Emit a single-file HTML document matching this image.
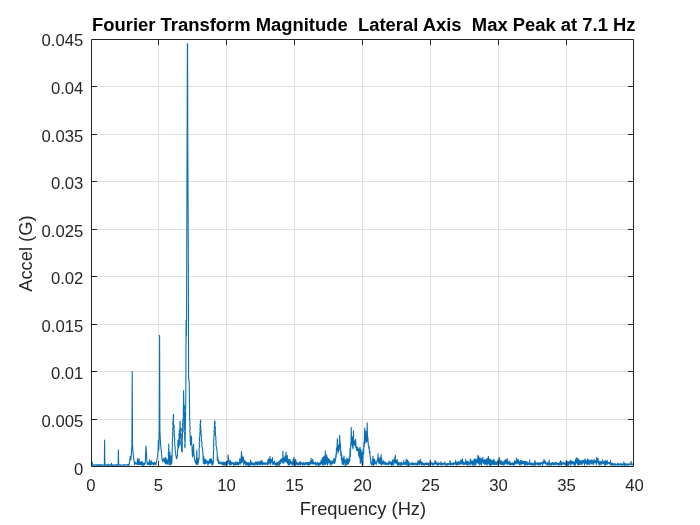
<!DOCTYPE html><html><head><meta charset="utf-8"><style>html,body{margin:0;padding:0;background:#fff;width:700px;height:525px;overflow:hidden}svg{display:block;will-change:transform}text{font-family:"Liberation Sans",sans-serif;fill:#262626}</style></head><body>
<svg width="700" height="525" viewBox="0 0 700 525">
<rect x="0" y="0" width="700" height="525" fill="#ffffff"/>
<path d="M158.5 39V466M226.5 39V466M294.5 39V466M362.5 39V466M430.5 39V466M498.5 39V466M566.5 39V466M91 419.5H633M91 371.5H633M91 324.5H633M91 276.5H633M91 229.5H633M91 181.5H633M91 134.5H633M91 86.5H633" stroke="#dfdfdf" stroke-width="1" fill="none"/>
<path d="M91.00 464.99 91.33 465.19 91.66 464.73 91.99 465.22 92.32 462.18 92.65 465.21 92.98 464.81 93.31 465.20 93.64 464.84 93.97 465.38 94.30 464.86 94.63 465.06 94.96 464.98 95.29 465.23 95.62 464.69 95.95 465.11 96.28 464.97 96.61 465.29 96.94 464.73 97.27 465.07 97.60 464.70 97.93 465.39 98.26 464.73 98.59 465.15 98.92 464.78 99.25 465.18 99.58 464.68 99.91 465.36 100.24 464.85 100.57 465.33 100.90 464.86 101.23 465.26 101.56 464.82 101.89 465.34 102.22 464.73 102.55 465.17 102.88 464.86 103.21 465.18 103.54 464.96 103.87 465.13 104.20 464.95 104.30 465.20 104.60 440.00 104.90 465.20 105.23 465.29 105.56 464.78 105.89 465.32 106.22 465.00 106.55 465.35 106.88 464.75 107.21 465.31 107.54 464.68 107.87 465.25 108.20 464.94 108.53 465.25 108.86 464.10 109.19 465.15 109.52 464.97 109.85 465.36 110.18 464.85 110.51 465.22 110.84 464.91 111.17 465.37 111.50 463.22 111.83 465.21 112.16 464.87 112.49 465.33 112.82 464.73 113.15 465.04 113.48 464.98 113.81 465.38 114.14 464.99 114.47 465.12 114.80 464.78 115.13 465.21 115.46 464.82 115.79 465.40 116.12 464.91 116.45 465.33 116.78 464.83 117.11 465.25 117.44 464.73 117.77 465.22 118.10 464.62 118.10 465.20 118.40 449.70 118.70 465.20 119.03 465.11 119.36 464.91 119.69 465.17 120.02 464.81 120.35 465.22 120.68 465.00 121.01 465.31 121.34 464.97 121.67 465.12 122.00 464.95 122.33 465.08 122.66 464.97 122.99 465.12 123.32 464.93 123.65 465.14 123.98 464.66 124.31 465.23 124.64 464.62 124.97 465.17 125.30 464.89 125.63 465.06 125.96 464.90 126.29 465.14 126.62 464.75 126.95 465.21 127.28 464.81 127.61 465.00 127.94 464.59 128.27 465.38 128.60 464.24 128.93 465.17 129.26 462.67 129.50 463.00 130.20 456.40 130.80 460.00 131.50 452.00 131.90 445.00 132.20 371.60 132.50 445.00 133.00 452.00 133.30 455.70 133.70 458.00 134.20 462.00 134.53 464.74 134.86 461.88 135.19 463.81 135.52 462.78 135.85 463.70 136.18 462.76 136.51 464.22 136.84 462.98 137.17 464.22 137.50 458.55 137.83 465.06 138.16 462.02 138.40 460.50 138.82 464.34 139.15 458.43 139.48 464.55 139.81 462.43 140.14 464.70 140.47 462.15 140.80 464.40 141.13 462.29 141.46 464.87 141.79 461.50 142.12 465.32 142.45 461.88 142.78 464.68 143.11 463.17 143.44 465.31 143.77 463.26 144.10 465.26 144.43 463.09 144.76 464.46 145.09 463.16 145.30 463.00 145.90 446.00 146.40 452.00 147.00 462.00 147.33 464.36 147.66 463.10 147.99 464.47 148.32 463.17 148.65 464.20 148.98 461.48 149.31 464.50 149.64 459.68 149.97 465.15 150.30 462.20 150.63 464.47 150.96 461.71 151.29 464.52 151.50 460.70 151.95 463.84 152.28 462.49 152.61 463.64 152.94 463.05 153.27 465.20 153.60 463.25 153.93 464.26 154.26 462.29 154.59 464.12 154.92 462.59 155.25 464.18 155.58 462.85 155.91 464.91 156.24 463.13 156.50 462.00 157.20 458.00 158.00 452.00 158.40 440.00 158.80 450.00 159.30 430.00 159.60 335.40 159.90 430.00 160.60 445.00 161.30 451.00 162.00 459.00 162.90 462.00 163.80 458.00 164.60 462.00 164.93 462.48 165.26 457.32 165.59 463.98 165.92 460.66 166.25 463.60 166.58 458.59 166.91 463.15 167.24 460.44 167.57 464.16 167.90 460.21 168.23 464.15 168.40 459.00 168.61 456.57 168.18 453.96 168.73 451.60 168.54 449.01 168.87 446.85 168.70 444.00 168.78 446.10 168.77 449.04 169.09 450.45 168.56 453.89 169.18 455.81 169.00 458.00 169.33 458.64 169.66 464.99 170.00 452.00 170.32 464.70 170.65 458.33 170.98 461.27 171.31 455.90 171.64 464.13 171.97 459.46 172.30 447.00 172.43 444.09 172.26 441.81 172.58 439.70 172.58 437.64 172.81 435.77 172.55 433.20 172.97 430.89 172.71 428.11 173.29 426.64 172.72 423.96 173.20 421.06 173.06 418.54 173.50 416.61 173.30 414.40 173.71 416.66 173.19 419.62 173.63 421.25 173.43 423.96 174.20 426.28 173.94 428.96 174.35 430.92 174.16 433.40 174.30 436.00 174.79 438.64 174.56 440.36 174.79 442.47 174.62 444.95 175.25 447.60 175.20 450.00 175.60 452.61 175.82 454.84 176.20 457.00 176.53 458.81 176.86 457.43 177.19 457.38 177.40 455.00 177.54 452.40 177.53 449.72 178.04 447.86 177.69 445.46 177.97 442.37 178.00 440.00 178.50 442.84 178.36 445.92 178.60 448.00 178.76 445.46 178.50 443.29 178.97 440.74 178.92 439.10 179.12 436.87 178.99 434.44 179.55 432.23 179.30 430.00 179.57 432.94 179.37 434.58 179.82 437.88 179.48 439.63 179.89 443.03 179.70 445.00 179.80 443.17 179.45 440.38 179.94 437.41 179.81 436.08 179.93 433.40 179.79 431.17 180.12 428.16 179.88 426.30 179.99 423.34 180.00 421.30 180.28 424.17 179.95 425.94 180.57 428.29 180.33 430.82 180.57 433.02 180.50 436.00 180.70 433.18 180.57 430.22 180.90 428.00 181.08 430.72 180.66 432.69 181.29 434.85 181.05 436.44 181.16 439.74 180.95 442.06 181.26 443.91 181.30 446.00 181.62 448.93 181.60 451.30 181.93 451.74 182.26 451.84 182.30 438.00 182.46 436.35 182.37 433.56 182.71 431.73 182.24 429.24 182.83 427.25 182.48 424.72 182.97 422.70 182.70 420.00 182.93 422.75 182.56 424.89 183.16 427.06 182.82 429.73 183.10 432.00 183.60 390.60 184.00 415.00 184.10 412.67 183.80 410.46 184.48 407.37 184.30 405.00 184.58 407.43 184.20 410.07 184.41 412.30 184.40 414.45 184.60 416.34 184.22 419.00 184.70 421.84 184.42 423.08 184.65 426.21 184.50 427.94 184.91 430.86 184.47 433.47 184.76 435.53 184.60 437.58 184.70 440.00 185.08 443.16 184.59 445.19 185.00 448.00 185.80 400.00 186.10 320.00 186.50 336.00 186.90 200.00 187.40 43.70 187.60 43.90 187.80 150.00 188.30 253.00 188.60 379.00 189.20 381.00 189.70 421.00 189.98 423.18 189.81 425.80 190.23 428.62 189.77 431.14 190.20 432.60 190.02 435.13 190.33 437.70 190.12 440.19 190.53 443.01 190.50 445.00 191.04 442.69 190.87 439.94 191.41 437.70 191.30 436.00 191.68 438.37 191.45 440.92 191.69 442.42 191.66 444.57 192.23 447.11 192.02 449.17 192.20 452.00 192.53 456.83 192.86 455.09 193.19 450.23 193.60 444.00 193.85 455.17 194.18 455.13 194.51 459.47 194.84 459.77 195.17 461.83 195.50 460.66 195.83 463.95 196.16 460.47 196.49 463.88 196.80 450.00 197.15 464.68 197.48 460.04 197.81 464.53 198.14 458.27 198.47 462.65 198.80 458.28 199.13 458.75 199.20 448.00 199.52 445.60 199.18 443.52 199.78 441.55 199.36 438.31 199.87 435.95 199.80 433.97 200.15 431.28 199.90 429.15 200.34 427.02 199.98 424.97 200.44 422.68 200.40 420.00 200.84 421.73 200.32 424.71 200.81 426.61 200.67 429.38 201.14 431.19 200.83 433.69 201.59 435.51 201.15 437.42 201.50 440.00 202.05 443.06 201.88 445.61 202.47 448.50 202.70 450.70 203.03 455.81 203.36 463.69 203.69 456.34 204.02 460.84 204.35 460.01 204.68 463.90 205.01 459.08 205.34 463.94 205.67 459.49 206.00 463.44 206.33 461.09 206.66 462.66 206.99 460.69 207.32 463.06 207.65 461.80 207.98 465.34 208.31 460.98 208.64 463.74 208.97 462.04 209.30 463.01 209.63 459.22 209.96 463.01 210.29 459.22 210.62 463.13 211.00 458.50 211.28 462.69 211.61 459.53 211.94 465.00 212.27 461.87 212.60 464.77 212.93 460.89 213.26 463.98 213.50 450.00 213.94 448.32 213.50 445.84 213.89 443.73 213.57 440.80 213.99 438.66 213.86 436.80 214.32 433.66 213.96 431.45 214.61 429.32 214.31 427.81 214.56 424.79 214.43 423.22 214.70 420.70 215.13 423.34 214.64 425.52 215.44 427.44 215.17 430.38 215.49 433.04 215.30 435.20 215.96 437.66 215.80 440.00 216.13 442.18 215.95 445.13 216.55 447.40 216.70 449.30 217.00 450.00 217.36 460.72 217.69 456.57 218.02 460.91 218.35 460.03 218.68 463.71 219.01 462.15 219.34 463.22 219.67 461.60 220.00 463.87 220.33 462.64 220.66 463.56 220.99 462.81 221.32 464.04 221.65 462.26 221.98 463.77 222.31 462.20 222.64 465.12 222.97 462.90 223.30 464.71 223.63 461.96 223.96 464.65 224.29 462.29 224.62 465.29 224.95 462.23 225.28 464.20 225.61 462.98 225.94 465.28 226.27 462.36 226.60 463.63 226.93 461.23 227.26 465.03 227.59 461.59 227.80 461.00 228.20 454.90 228.60 461.00 228.93 463.77 229.26 462.04 229.59 464.96 230.00 460.00 230.25 464.74 230.58 461.16 230.91 464.74 231.24 462.40 231.57 464.49 231.90 462.20 232.23 463.80 232.56 462.42 232.89 463.72 233.22 462.67 233.55 465.31 233.88 463.38 234.21 464.72 234.54 462.75 234.87 464.92 235.20 463.44 235.53 464.98 235.86 461.58 236.19 464.75 236.52 463.16 236.85 464.34 237.18 462.03 237.51 464.84 237.84 462.26 238.17 464.49 238.50 462.92 238.83 464.93 239.16 462.36 239.49 463.43 239.82 458.53 240.15 462.31 240.48 460.14 240.81 464.09 241.14 457.98 241.50 451.50 241.80 462.42 242.13 455.74 242.46 461.82 242.79 457.98 243.12 460.81 243.45 456.94 243.78 464.98 244.11 460.36 244.44 463.53 244.77 460.79 245.10 463.15 245.43 461.33 245.76 465.25 246.09 462.35 246.42 464.14 246.75 462.45 247.08 465.21 247.41 462.52 247.74 463.70 248.07 463.21 248.40 465.38 248.73 462.49 249.06 464.98 249.39 462.81 249.72 465.38 250.05 463.38 250.38 464.95 250.60 460.00 251.04 464.08 251.37 462.00 251.70 464.47 252.03 462.73 252.36 464.79 252.69 463.23 253.02 465.08 253.35 463.26 253.68 463.86 254.01 462.97 254.34 464.85 254.67 463.30 255.00 465.16 255.33 461.95 255.66 464.17 255.99 462.09 256.32 463.92 256.65 462.80 256.98 464.99 257.31 461.89 257.64 464.65 257.97 461.58 258.30 464.60 258.63 462.49 258.96 463.93 259.29 462.97 259.62 464.75 260.00 461.00 260.28 464.59 260.61 461.16 260.94 464.04 261.27 463.22 261.60 464.13 261.93 460.31 262.26 464.75 262.59 462.75 262.92 464.69 263.25 462.53 263.58 463.86 263.91 462.74 264.24 463.99 264.57 463.22 264.90 464.76 265.23 462.61 265.56 464.11 265.89 463.39 266.22 464.13 266.55 463.20 266.88 463.74 267.21 462.50 267.54 465.19 267.87 460.10 268.20 463.05 268.53 458.92 268.86 464.01 269.19 459.22 269.52 461.51 270.00 456.30 270.18 464.85 270.51 460.56 270.84 463.12 271.17 459.40 271.50 461.73 271.83 460.90 272.16 462.98 272.49 457.52 272.82 464.40 273.15 461.97 273.48 464.08 273.81 463.21 274.14 464.44 274.47 461.05 274.80 463.67 275.13 463.37 275.46 464.86 275.79 462.98 276.12 464.73 276.45 462.85 276.78 465.37 277.11 462.13 277.44 465.15 277.77 462.50 278.10 465.08 278.43 462.22 278.76 464.06 279.09 460.93 279.42 465.29 279.75 461.07 280.08 462.13 280.41 459.98 280.74 463.72 281.07 459.10 281.40 461.79 281.73 458.70 282.06 459.99 282.39 458.23 282.72 462.90 282.90 451.40 283.38 462.97 283.71 457.86 284.04 462.92 284.37 457.93 284.70 460.74 285.03 456.15 285.36 461.34 285.69 458.47 286.00 452.00 286.35 461.99 286.68 458.29 287.01 462.36 287.34 455.51 287.67 463.38 288.00 458.90 288.33 465.19 288.66 460.25 288.99 464.55 289.32 459.60 289.65 464.66 289.98 459.46 290.31 462.68 290.64 461.61 290.97 464.28 291.30 462.12 291.63 463.52 291.96 461.80 292.29 465.16 292.62 462.23 292.95 464.05 293.28 459.16 293.61 464.63 293.94 457.42 294.27 463.27 294.60 461.08 294.93 463.84 295.40 459.40 295.59 465.28 295.92 460.32 296.25 464.72 296.58 462.32 296.91 463.63 297.24 462.67 297.57 464.89 297.90 463.38 298.23 465.06 298.56 463.29 298.89 464.60 299.22 462.20 299.55 463.73 299.88 462.31 300.21 465.08 300.54 461.49 300.87 464.22 301.20 462.60 301.53 464.00 301.86 463.25 302.19 464.29 302.52 463.57 302.85 465.28 303.18 462.55 303.51 464.30 303.84 462.53 304.17 465.04 304.50 463.24 304.83 464.81 305.16 463.18 305.49 464.45 305.82 462.42 306.15 463.87 306.48 463.09 306.81 464.32 307.14 461.96 307.47 464.64 307.80 462.76 308.13 465.32 308.46 462.58 308.79 464.87 309.12 462.57 309.45 464.72 309.78 462.11 310.11 464.67 310.44 461.48 310.77 463.04 311.10 458.36 311.43 463.41 311.76 460.99 312.09 464.06 312.42 460.32 312.70 459.40 313.08 463.84 313.41 461.73 313.74 463.88 314.07 462.73 314.40 463.93 314.73 463.03 315.06 463.77 315.39 462.17 315.72 465.12 316.05 462.99 316.38 464.67 316.71 463.26 317.04 464.10 317.37 462.44 317.70 465.04 318.03 463.05 318.36 465.34 318.69 463.11 319.02 464.50 319.35 463.52 319.68 465.17 320.01 462.08 320.34 464.60 320.67 461.96 321.00 463.43 321.33 459.72 321.66 463.64 321.99 460.32 322.32 464.52 322.65 457.65 322.98 465.22 323.31 457.43 323.64 462.82 323.97 456.09 324.30 464.91 324.63 458.10 324.96 463.84 325.30 451.10 325.62 464.42 325.95 457.53 326.28 461.13 326.61 454.90 326.94 463.67 327.27 457.00 327.60 465.21 327.93 458.80 328.26 461.53 328.59 458.56 328.92 463.06 329.25 459.59 329.58 463.01 329.91 460.25 330.24 464.62 330.57 461.20 330.90 465.31 331.23 462.55 331.56 463.54 331.89 460.82 332.22 464.03 332.55 460.94 332.88 463.13 333.21 461.17 333.54 462.78 333.87 458.12 334.20 463.47 334.53 458.95 334.86 463.13 335.19 460.37 335.52 460.51 335.85 454.54 336.18 457.03 336.51 447.79 336.84 453.73 337.17 443.20 337.40 438.80 337.83 450.18 338.16 445.08 338.49 452.32 338.82 446.04 339.15 450.43 339.48 445.09 339.70 435.30 340.14 447.53 340.47 443.51 340.80 455.12 341.13 451.57 341.46 459.70 341.79 454.77 342.12 464.20 342.45 458.37 342.78 462.55 343.11 458.59 343.44 464.79 343.77 460.61 344.00 456.00 344.43 462.38 344.76 460.43 345.09 465.33 345.42 459.77 345.75 465.15 346.08 461.93 346.41 463.18 346.74 458.02 347.07 464.71 347.40 459.34 347.73 463.69 348.06 459.13 348.39 463.98 348.72 459.80 349.05 462.47 349.38 457.29 349.71 461.26 350.04 448.65 350.37 456.68 350.70 442.50 351.03 444.91 351.20 427.40 351.69 441.88 352.02 437.03 352.35 446.90 352.68 437.42 353.01 448.97 353.50 430.80 353.67 444.62 354.00 439.93 354.33 444.56 354.66 442.13 354.99 445.93 355.32 441.43 355.60 439.40 355.98 447.79 356.31 446.26 356.64 450.34 356.97 446.69 357.30 450.35 357.63 447.43 357.96 451.07 358.29 448.97 358.62 455.12 358.95 449.17 359.28 457.78 359.61 449.48 360.00 447.00 360.27 463.45 360.60 449.47 360.93 462.14 361.26 450.90 361.59 460.19 361.92 454.04 362.25 465.22 362.58 452.19 362.91 464.88 363.24 449.04 363.57 453.85 363.90 442.52 364.23 446.41 364.70 428.00 364.89 443.53 365.22 430.57 365.55 440.19 365.88 437.23 366.21 442.19 366.54 431.35 366.87 441.55 367.20 422.90 367.53 439.56 367.86 436.75 368.19 444.32 368.52 445.58 368.85 448.35 369.18 446.89 369.51 452.94 369.84 450.96 370.17 457.34 370.50 457.44 370.83 463.74 371.16 462.93 371.49 464.65 371.82 462.52 372.15 464.82 372.48 459.02 372.81 464.47 373.00 456.00 373.47 465.40 373.80 459.25 374.13 464.43 374.46 459.21 374.79 463.42 375.12 460.89 375.45 463.14 375.78 462.81 376.11 464.64 376.44 462.07 376.77 462.99 377.10 460.01 377.43 461.01 377.76 459.16 378.00 453.70 378.42 462.32 378.75 458.12 379.08 463.75 379.41 457.98 379.74 463.28 380.07 458.43 380.40 464.07 380.73 457.17 381.20 454.90 381.39 464.89 381.72 458.61 382.05 464.01 382.38 461.51 382.71 463.89 383.04 462.38 383.37 463.73 383.70 460.51 384.03 464.43 384.36 462.99 384.69 464.05 385.02 462.04 385.35 464.79 385.68 462.26 386.01 463.86 386.34 463.13 386.67 464.64 387.00 462.98 387.33 463.92 387.66 463.15 387.99 464.74 388.32 462.87 388.65 465.05 388.98 461.12 389.31 463.47 389.64 462.99 389.97 463.89 390.30 461.72 390.63 464.47 390.96 462.58 391.29 465.28 391.62 461.94 391.95 465.29 392.28 460.62 392.61 462.63 392.94 459.75 393.27 465.32 393.60 460.48 393.93 464.09 394.26 458.93 394.59 462.08 394.92 458.04 395.40 455.40 395.58 462.70 395.91 460.03 396.24 463.89 396.57 460.44 396.90 462.68 397.23 459.50 397.56 465.12 397.89 462.77 398.22 464.49 398.55 462.39 398.88 465.37 399.21 463.14 399.54 464.44 399.87 462.69 400.20 464.66 400.53 462.84 400.86 465.32 401.19 462.25 401.52 464.93 401.85 462.29 402.18 464.66 402.51 463.70 402.84 464.07 403.17 463.02 403.50 464.17 403.83 460.62 404.16 464.34 404.49 462.87 404.82 463.57 405.15 462.82 405.48 464.39 405.81 462.35 406.30 459.40 406.47 464.93 406.80 459.81 407.13 465.09 407.46 460.26 407.79 463.54 408.12 461.36 408.45 465.38 408.78 462.07 409.11 465.38 409.44 463.43 409.77 464.37 410.10 463.67 410.43 464.35 410.76 463.77 411.09 464.11 411.42 462.79 411.75 464.88 412.08 463.64 412.41 464.21 412.74 462.60 413.07 465.10 413.40 463.25 413.73 464.54 414.06 463.75 414.39 464.57 414.72 463.20 415.05 464.22 415.38 463.16 415.71 464.96 416.04 463.68 416.37 464.43 416.70 463.45 417.03 465.17 417.36 462.50 417.69 464.84 418.02 460.29 418.35 464.64 418.68 461.93 419.01 463.35 419.34 461.14 419.67 464.62 420.00 462.03 420.30 459.40 420.66 462.92 420.99 461.63 421.32 464.92 421.65 462.14 421.98 465.07 422.31 462.45 422.64 463.99 422.97 463.13 423.30 464.93 423.63 463.92 423.96 464.56 424.29 463.19 424.62 465.12 424.95 463.47 425.28 464.24 425.61 463.46 425.94 464.62 426.27 462.67 426.60 464.44 426.93 463.19 427.26 464.81 427.59 463.07 427.92 464.55 428.25 463.31 428.58 465.35 428.91 463.36 429.24 464.54 429.57 463.29 429.90 465.18 429.90 463.00 430.30 460.00 430.70 463.50 431.03 463.07 431.36 464.30 431.69 462.80 432.02 463.91 432.35 462.92 432.68 465.21 433.01 463.68 433.34 465.01 433.67 463.22 434.00 463.65 434.33 462.93 434.66 464.33 435.00 460.50 435.32 463.32 435.65 461.31 435.98 464.07 436.31 462.23 436.64 464.65 436.97 463.08 437.30 465.10 437.63 462.74 437.96 465.29 438.29 463.20 438.62 464.68 438.95 462.77 439.28 464.17 439.61 463.56 439.94 464.12 440.27 463.62 440.60 464.89 440.93 461.49 441.26 464.23 441.59 463.73 441.92 465.16 442.25 463.23 442.58 464.60 442.91 463.87 443.24 464.14 443.57 463.06 443.90 464.31 444.23 463.76 444.56 464.58 444.89 461.87 445.22 465.02 445.55 463.73 445.88 464.70 446.21 463.83 446.54 465.25 446.87 463.87 447.20 465.26 447.53 463.23 447.86 464.74 448.19 463.55 448.52 464.28 448.85 463.82 449.18 464.97 449.51 463.28 449.80 464.00 450.10 460.60 450.50 464.00 450.83 465.20 451.16 463.44 451.49 464.24 451.82 463.04 452.15 464.65 452.48 463.65 452.81 464.31 453.14 462.53 453.47 464.94 453.80 463.41 454.13 463.97 454.46 463.06 454.79 463.78 455.12 462.48 455.45 464.31 455.78 460.26 456.11 464.87 456.44 462.34 456.77 464.83 457.10 462.69 457.43 464.90 457.76 462.04 458.09 463.52 458.42 461.55 458.75 464.66 459.08 462.62 459.41 464.07 459.74 461.98 460.07 463.32 460.40 460.63 460.73 464.50 461.00 460.00 461.39 463.66 461.72 462.08 462.05 463.26 462.38 458.56 462.71 464.30 463.04 461.48 463.37 464.67 463.70 462.21 464.03 463.17 464.36 462.83 464.69 464.51 465.02 462.59 465.35 463.83 465.68 459.31 466.01 464.52 466.34 462.35 466.67 463.25 467.00 461.40 467.33 465.09 467.66 461.90 467.99 465.22 468.32 461.40 468.65 464.10 468.98 462.67 469.31 463.73 469.64 462.69 469.97 465.16 470.30 458.78 470.63 463.51 470.96 460.12 471.29 464.27 471.62 462.00 471.95 463.50 472.28 460.95 472.61 465.06 472.94 461.19 473.27 465.13 473.60 460.59 473.93 462.84 474.26 459.28 474.59 465.21 474.92 458.89 475.25 463.38 475.58 459.59 475.91 465.01 476.24 460.62 476.57 461.50 476.90 459.09 477.23 462.76 477.56 459.98 477.90 455.20 478.22 463.58 478.55 456.26 478.88 462.12 479.21 460.35 479.54 464.84 479.87 457.55 480.20 464.39 480.53 461.57 480.86 462.52 481.19 458.24 481.52 465.13 481.85 459.20 482.18 462.19 482.51 459.38 483.00 457.50 483.17 463.09 483.50 461.22 483.83 463.45 484.16 460.20 484.49 464.09 484.82 459.67 485.15 464.57 485.48 460.08 485.81 463.91 486.14 460.09 486.47 463.91 486.80 458.23 487.13 465.18 487.46 459.80 487.79 463.86 488.12 458.10 488.40 456.30 488.78 463.91 489.11 458.58 489.44 464.51 489.77 460.39 490.10 465.37 490.43 459.41 490.76 465.37 491.09 460.27 491.42 464.13 491.75 460.50 492.08 464.40 492.41 460.75 492.74 464.40 493.07 460.64 493.40 463.13 493.73 459.28 494.06 464.68 494.39 460.44 494.72 464.24 495.05 462.16 495.38 464.65 495.71 461.82 496.04 462.86 496.37 462.22 496.70 464.60 497.03 462.26 497.36 463.81 497.69 460.31 498.02 465.28 498.35 461.94 498.68 463.15 499.01 457.66 499.34 463.57 499.67 458.16 500.00 464.38 500.33 462.06 500.66 463.17 500.99 460.44 501.32 464.33 501.65 462.21 501.98 464.31 502.31 461.51 502.64 464.62 502.97 462.18 503.30 465.12 503.63 462.32 503.96 464.03 504.29 460.40 504.62 464.61 504.95 462.44 505.28 463.00 505.61 460.55 506.00 459.50 506.27 463.99 506.60 462.17 506.93 463.14 507.26 458.63 507.59 464.44 507.92 461.94 508.25 464.17 508.58 462.04 508.91 463.50 509.24 460.83 509.57 465.05 509.90 462.60 510.23 464.80 510.56 462.44 510.89 464.59 511.22 463.34 511.55 464.58 511.88 463.54 512.21 464.48 512.54 462.83 512.87 464.83 513.20 462.95 513.53 464.91 513.86 462.81 514.19 464.87 514.52 460.78 514.85 464.49 515.18 461.94 515.51 463.70 515.84 461.08 516.17 462.60 516.40 458.30 516.83 463.99 517.16 460.70 517.49 463.17 517.82 459.62 518.15 463.01 518.48 459.58 518.81 463.88 519.14 461.51 519.47 465.01 519.80 462.56 520.13 463.44 520.46 460.53 520.79 464.87 521.12 460.87 521.45 463.92 521.78 460.61 522.11 463.98 522.44 462.51 522.77 463.73 523.10 461.34 523.43 463.67 523.76 461.21 524.09 463.68 524.42 461.21 524.75 465.35 525.08 461.92 525.41 464.73 525.74 461.31 526.07 464.31 526.40 461.43 526.73 464.78 527.06 462.06 527.39 465.07 527.72 462.97 528.05 464.25 528.38 462.72 528.71 464.50 529.04 463.18 529.37 464.24 529.70 459.96 530.03 464.93 530.36 463.72 530.69 464.80 531.02 463.19 531.35 464.14 531.68 463.34 532.01 464.93 532.34 462.93 532.67 465.25 533.00 463.81 533.33 465.30 533.66 463.75 533.99 464.61 534.32 462.64 534.65 464.96 534.98 460.59 535.31 465.30 535.64 462.35 535.97 463.99 536.30 463.42 536.63 464.26 536.96 463.18 537.29 464.63 537.62 462.62 537.95 464.87 538.28 463.10 538.61 464.34 538.94 462.96 539.27 465.28 539.60 463.04 539.93 463.91 540.26 463.03 540.59 464.89 540.92 462.35 541.25 463.63 541.58 463.17 541.91 463.49 542.24 462.76 542.57 465.35 542.90 461.77 543.23 463.73 543.56 461.77 544.00 459.50 544.22 463.04 544.55 460.66 544.88 463.33 545.21 461.21 545.54 463.85 545.87 461.76 546.20 464.13 546.53 463.31 546.86 464.51 547.19 463.40 547.52 465.40 547.85 462.26 548.18 463.91 548.51 463.50 548.84 464.89 549.17 460.07 549.50 465.00 549.83 463.17 550.16 464.89 550.49 463.29 550.82 465.04 551.15 463.56 551.48 465.17 551.81 462.65 552.14 464.20 552.47 462.79 552.80 464.40 553.13 462.66 553.46 465.01 553.79 463.55 554.12 465.04 554.45 462.73 554.78 464.29 555.11 463.29 555.44 464.57 555.77 462.26 556.10 465.02 556.43 462.54 556.76 463.85 557.09 462.79 557.42 463.97 557.75 463.63 558.08 465.19 558.41 463.36 558.74 464.86 559.07 463.35 559.40 464.94 559.73 463.06 560.00 461.80 560.39 464.63 560.72 460.58 561.05 464.79 561.38 462.11 561.71 465.17 562.04 462.45 562.37 463.88 562.70 463.56 563.03 463.93 563.36 462.36 563.69 463.92 564.02 462.48 564.35 464.35 564.68 463.53 565.01 463.93 565.34 462.96 565.67 465.22 566.00 463.00 566.30 460.00 566.70 463.50 567.03 462.14 567.36 465.26 567.69 461.57 568.02 465.29 568.35 461.52 568.68 465.11 569.01 461.72 569.34 464.00 569.67 462.13 570.00 462.99 570.33 460.16 570.66 465.20 570.99 460.80 571.32 462.91 571.65 461.21 571.98 464.49 572.31 461.27 572.64 463.15 572.97 462.14 573.30 463.65 573.63 461.78 573.96 464.83 574.29 461.94 574.62 465.33 574.95 461.42 575.28 465.24 575.61 459.45 575.94 463.08 576.27 457.80 576.60 462.84 577.00 458.20 577.26 463.80 577.59 460.99 577.92 464.83 578.25 458.79 578.58 465.27 578.91 460.10 579.24 464.32 579.57 460.92 579.90 464.51 580.23 460.74 580.56 463.82 580.89 461.07 581.22 464.17 581.55 460.80 581.88 464.77 582.21 462.22 582.54 462.97 582.87 460.09 583.20 462.64 583.53 460.44 583.86 463.34 584.19 460.18 584.52 464.94 585.00 458.90 585.18 462.63 585.51 460.25 585.84 463.39 586.17 460.47 586.50 463.95 586.83 461.99 587.16 464.30 587.49 458.99 587.82 464.62 588.15 461.15 588.48 464.06 588.81 459.57 589.14 464.01 589.47 461.34 589.80 464.59 590.13 460.79 590.46 463.06 590.79 460.00 591.12 463.01 591.45 459.95 591.78 463.85 592.11 460.40 592.44 462.43 592.77 460.48 593.10 464.47 593.43 461.38 593.76 464.28 594.09 459.20 594.42 462.60 594.75 461.10 595.08 462.26 595.41 460.66 595.74 462.91 596.07 460.94 596.40 464.77 596.70 457.40 597.06 462.53 597.39 459.40 597.72 462.29 598.05 458.32 598.38 464.29 598.71 461.36 599.04 462.59 599.37 461.89 599.70 465.21 600.03 461.41 600.36 462.59 600.69 461.95 601.02 464.88 601.35 461.58 601.68 462.66 602.01 461.46 602.34 463.40 602.67 459.75 603.00 463.32 603.33 461.94 603.66 463.88 603.99 462.33 604.32 464.09 604.65 461.01 604.98 465.34 605.31 460.32 605.64 464.79 605.97 461.69 606.30 463.56 606.63 461.36 606.96 464.68 607.29 460.41 607.62 463.58 607.95 462.33 608.28 463.07 608.61 462.64 608.94 463.34 609.27 462.56 609.60 463.99 609.93 462.60 610.26 464.63 610.59 460.37 610.92 464.80 611.25 463.72 611.58 465.13 611.91 463.43 612.24 465.15 612.57 462.96 612.90 465.03 613.23 463.85 613.56 464.75 613.89 463.76 614.22 465.16 614.55 463.85 614.88 465.28 615.21 463.84 615.54 464.66 615.87 463.98 616.20 464.51 616.53 464.28 616.86 464.89 617.19 464.37 617.52 465.23 617.85 463.00 618.18 464.90 618.51 463.82 618.84 464.76 619.17 463.89 619.50 464.84 619.83 464.24 620.16 465.03 620.49 463.70 620.82 464.58 621.15 463.32 621.48 465.17 621.81 464.24 622.14 465.29 622.47 464.02 622.80 464.76 623.13 464.00 623.46 464.82 623.79 461.72 624.12 465.29 624.45 463.62 624.78 465.39 625.11 463.65 625.44 465.00 625.77 463.70 626.10 464.67 626.43 464.07 626.76 465.13 627.09 464.44 627.42 465.14 627.75 463.83 628.08 464.96 628.41 464.01 628.74 464.64 629.07 463.87 629.40 464.79 629.73 464.04 630.06 465.03 630.39 464.05 630.70 464.00 631.00 461.30 631.30 464.00 631.63 464.87 631.96 464.01 632.29 464.74 632.62 464.05 632.95 464.65" fill="none" stroke="#0b6fb5" stroke-width="1.1" stroke-linejoin="round"/>
<path d="M91.5 39.5H633.5V466.5H91.5Z" stroke="#262626" stroke-width="1" fill="none"/>
<path d="M158.5 466v-5M158.5 40v5M226.5 466v-5M226.5 40v5M294.5 466v-5M294.5 40v5M362.5 466v-5M362.5 40v5M430.5 466v-5M430.5 40v5M498.5 466v-5M498.5 40v5M566.5 466v-5M566.5 40v5M92 419.5h5M633 419.5h-5M92 371.5h5M633 371.5h-5M92 324.5h5M633 324.5h-5M92 276.5h5M633 276.5h-5M92 229.5h5M633 229.5h-5M92 181.5h5M633 181.5h-5M92 134.5h5M633 134.5h-5M92 86.5h5M633 86.5h-5" stroke="#262626" stroke-width="1" fill="none"/>
<text x="91.0" y="491" font-size="16.67" text-anchor="middle">0</text>
<text x="158.5" y="491" font-size="16.67" text-anchor="middle">5</text>
<text x="226.5" y="491" font-size="16.67" text-anchor="middle">10</text>
<text x="294.5" y="491" font-size="16.67" text-anchor="middle">15</text>
<text x="362.5" y="491" font-size="16.67" text-anchor="middle">20</text>
<text x="430.5" y="491" font-size="16.67" text-anchor="middle">25</text>
<text x="498.5" y="491" font-size="16.67" text-anchor="middle">30</text>
<text x="566.5" y="491" font-size="16.67" text-anchor="middle">35</text>
<text x="634.5" y="491" font-size="16.67" text-anchor="middle">40</text>
<text x="83.3" y="474.7" font-size="16.67" text-anchor="end">0</text>
<text x="83.3" y="426.7" font-size="16.67" text-anchor="end">0.005</text>
<text x="83.3" y="378.7" font-size="16.67" text-anchor="end">0.01</text>
<text x="83.3" y="331.7" font-size="16.67" text-anchor="end">0.015</text>
<text x="83.3" y="283.7" font-size="16.67" text-anchor="end">0.02</text>
<text x="83.3" y="236.7" font-size="16.67" text-anchor="end">0.025</text>
<text x="83.3" y="188.7" font-size="16.67" text-anchor="end">0.03</text>
<text x="83.3" y="141.7" font-size="16.67" text-anchor="end">0.035</text>
<text x="83.3" y="93.7" font-size="16.67" text-anchor="end">0.04</text>
<text x="83.3" y="45.7" font-size="16.67" text-anchor="end">0.045</text>
<text x="363" y="515" font-size="18.33" text-anchor="middle">Frequency (Hz)</text>
<text transform="translate(32.1 253.6) rotate(-90)" x="0" y="0" font-size="18.33" text-anchor="middle">Accel (G)</text>
<text x="363.8" y="31" font-size="18.42" font-weight="bold" text-anchor="middle" style="fill:#000;white-space:pre">Fourier Transform Magnitude  Lateral Axis  Max Peak at 7.1 Hz</text>
</svg></body></html>
